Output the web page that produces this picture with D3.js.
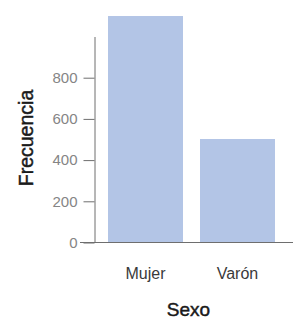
<!DOCTYPE html>
<html><head><meta charset="utf-8">
<script src="https://cdn.jsdelivr.net/npm/d3@7"></script>
<style>body{margin:0;background:#fff}svg{display:block}text{font-family:"Liberation Sans",Arial,sans-serif}</style>
</head><body>
<svg id="c" width="293" height="317"></svg>
<script>
const categories = ["Mujer", "Varón"];
const values = [1097, 500];
const yTicks = [0, 200, 400, 600, 800];
const yAxisMax = 1000;

const svg = d3.select("#c");
const x = d3.scaleBand().domain(categories).range([99.5, 283.5]).paddingInner(0.185).paddingOuter(0.0925);
const y = d3.scaleLinear().domain([0, yAxisMax]).range([242, 36]);

svg.selectAll("rect.bar").data(categories).join("rect")
  .attr("class","bar")
  .attr("x", d => x(d)).attr("width", x.bandwidth())
  .attr("y", (d,i) => y(values[i])).attr("height", (d,i) => y(0) - y(values[i]))
  .attr("fill", "#b3c5e6");

// x axis line
svg.append("line").attr("x1", 80).attr("x2", 293).attr("y1", y(0)+0.5).attr("y2", y(0)+0.5)
  .attr("stroke", "#6e6e6e").attr("stroke-width", 1);
// y axis
const yAxis = d3.axisLeft(y).tickValues(yTicks).tickSize(11).tickPadding(6).tickSizeOuter(0);
const gy = svg.append("g").attr("transform", "translate(94.5,0.5)").call(yAxis);
gy.select(".domain").attr("stroke", "#6e6e6e");
gy.selectAll(".tick line").attr("stroke", "#6e6e6e");
gy.selectAll(".tick text").attr("fill", "#858585").style("font-size", "15px").style("font-family", "Liberation Sans, Arial, sans-serif");

// x labels
svg.selectAll("text.xl").data(categories).join("text")
  .attr("class","xl")
  .attr("x", d => x(d) + x.bandwidth()/2).attr("y", 279)
  .attr("text-anchor","middle").attr("fill","#3a3a3a").style("font-size","16px")
  .text(d => d);

svg.append("text").attr("x", 188.5).attr("y", 315.5).attr("text-anchor","middle")
  .attr("fill","#1a1a1a").attr("stroke","#1a1a1a").attr("stroke-width",0.45)
  .style("font-size","19px").text("Sexo");
svg.append("text").attr("transform","translate(32.5,138) rotate(-90)").attr("text-anchor","middle")
  .attr("fill","#1a1a1a").attr("stroke","#1a1a1a").attr("stroke-width",0.45)
  .style("font-size","19.5px").text("Frecuencia");
</script>
</body></html>
